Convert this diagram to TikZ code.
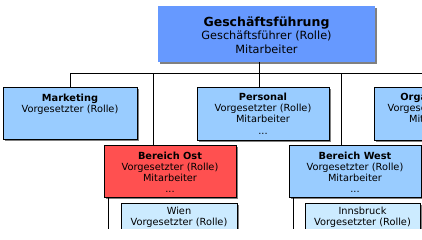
\documentclass[tikz,border=0pt]{standalone}
\usepackage{fontspec}
\setmainfont{DejaVu Sans}
\usetikzlibrary{shadows}
\definecolor{gfblue}{HTML}{6699FF}
\definecolor{lblue}{HTML}{99CCFF}
\definecolor{ostred}{HTML}{FF5050}
\definecolor{pale}{HTML}{CCEBFF}
\newcommand\boxcontent[3]{\parbox[t][#2][t]{#1}{\centering #3}}
\begin{document}
\begin{tikzpicture}[x=1pt,y=-1pt,
  shad/.style={drop shadow={shadow xshift=2pt,shadow yshift=-2pt,fill=black!50,opacity=1}},
  unit/.style={draw=black,line width=0.9pt,inner sep=0pt,outer sep=0pt,shad,
    font=\fontsize{9.8}{11.2}\selectfont},
  head/.style={inner sep=0pt,outer sep=0pt,shad,fill=gfblue,
    font=\fontsize{11.3}{13.5}\selectfont},
  conn/.style={draw=black,line width=0.9pt}
]
\useasboundingbox (0,0) rectangle (422,239);
\begin{scope}
\clip (0,0) rectangle (422,228);
\node[head] (gf) at (266.5,34) {\boxcontent{217pt}{56pt}{\rule{0pt}{20pt}{\fontsize{12.5}{13.5}\selectfont\bfseries Geschäftsführung}\\Geschäftsführer (Rolle)\\Mitarbeiter}};
\node[unit,fill=lblue] (mk) at (70,113) {\boxcontent{134pt}{52pt}{\rule{0pt}{14pt}\textbf{Marketing}\\Vorgesetzter (Rolle)}};
\node[unit,fill=lblue] (pe) at (263,113.5) {\boxcontent{132pt}{53pt}{\rule{0pt}{13.5pt}\textbf{Personal}\\Vorgesetzter (Rolle)\\Mitarbeiter\\...}};
\node[unit,fill=lblue] (org) at (436,113.5) {\boxcontent{124pt}{53pt}{\rule{0pt}{13.5pt}\textbf{Organisation}\\Vorgesetzter (Rolle)\\Mitarbeiter\\...}};
\node[unit,fill=ostred] (os) at (170,171) {\boxcontent{132pt}{52pt}{\rule{0pt}{14pt}\textbf{Bereich Ost}\\Vorgesetzter (Rolle)\\Mitarbeiter\\...}};
\node[unit,fill=lblue] (we) at (355,171) {\boxcontent{132pt}{52pt}{\rule{0pt}{14pt}\textbf{Bereich West}\\Vorgesetzter (Rolle)\\Mitarbeiter\\...}};
\node[unit,fill=pale] (wi) at (179,226.5) {\boxcontent{116pt}{47pt}{\rule{0pt}{11.3pt}Wien\hspace*{24pt}\\Vorgesetzter (Rolle)}};
\node[unit,fill=pale] (ib) at (362.5,226.5) {\boxcontent{115pt}{47pt}{\rule{0pt}{11.3pt}Innsbruck\hspace*{13pt}\\Vorgesetzter (Rolle)}};
% connectors
\coordinate (busL) at (70,73);
\coordinate (busR) at (430,73);
\draw[conn] (busL) -- (busR);
\draw[conn] (mk.north) -- (mk.north |- busL);
\coordinate (pe1) at ([xshift=-4pt]pe.north);
\draw[conn] (pe1) -- (pe1 |- gf.south);
\coordinate (os1) at ([xshift=-17pt]os.north);
\draw[conn] (os1) -- (os1 |- busL);
\coordinate (we1) at ([xshift=-14pt]we.north);
\draw[conn] (we1) -- (we1 |- busL);
\coordinate (os2) at ([xshift=4pt]os.south west);
\coordinate (osEnd) at (108,240);
\draw[conn] (os2) -- (osEnd);
\coordinate (we2) at ([xshift=4pt]we.south west);
\coordinate (weEnd) at (293,240);
\draw[conn] (we2) -- (weEnd);
\end{scope}
\end{tikzpicture}
\end{document}
